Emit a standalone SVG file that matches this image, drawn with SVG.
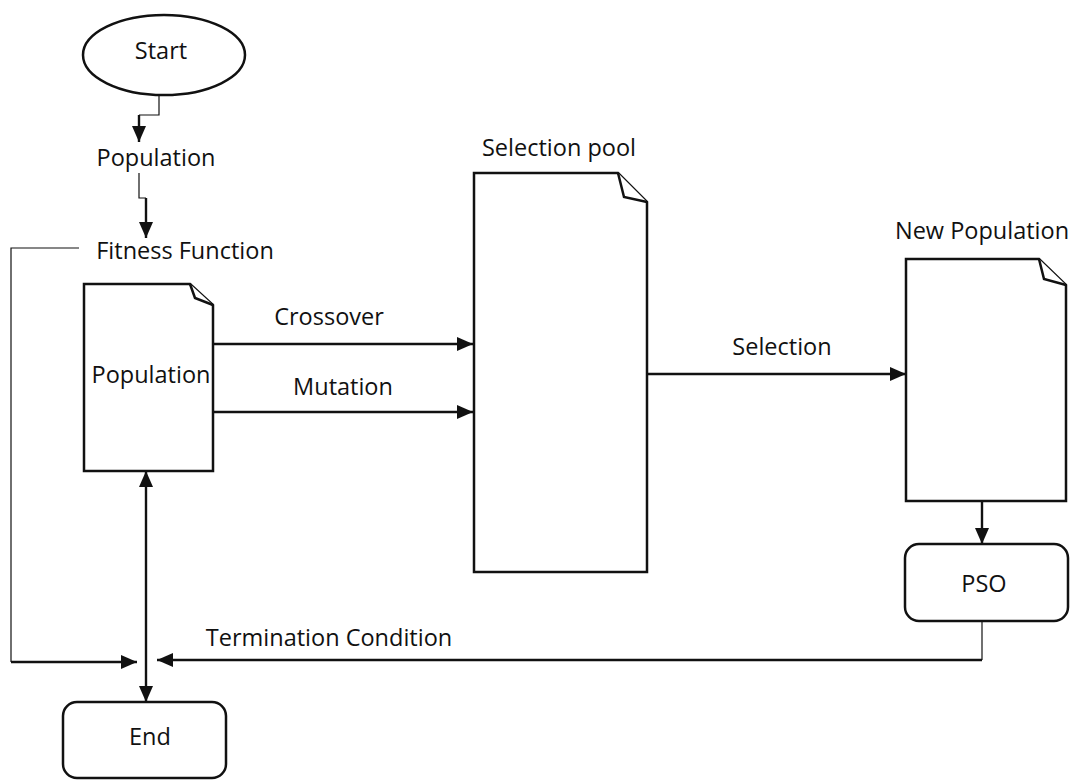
<svg xmlns="http://www.w3.org/2000/svg" width="1073" height="780" viewBox="0 0 1073 780">
<style>
.t{font-family:"Open Sans","Liberation Sans",sans-serif;font-size:23.5px;fill:#111;}
.s{fill:#fff;stroke:#111;stroke-width:2.5;stroke-linejoin:miter;}
.c{fill:none;stroke:#111;stroke-width:2.4;}
.thin{fill:none;stroke:#111;stroke-width:1.2;}
</style>
<defs>
<marker id="ah" viewBox="0 0 16 14" refX="16" refY="7" markerWidth="16" markerHeight="14" markerUnits="userSpaceOnUse" orient="auto-start-reverse">
<path d="M0,0 L16,7 L0,14 Z" fill="#111"/>
</marker>
</defs>
<rect width="1073" height="780" fill="#fff"/>
<g id="connectors">
<path class="thin" d="M159,96 V115 H139"/>
<path class="c" d="M139,115 V142" marker-end="url(#ah)"/>
<path class="thin" d="M139,173 V198 H146"/>
<path class="c" d="M146,198 V238" marker-end="url(#ah)"/>
<path class="thin" d="M79,248 H11 V662"/>
<path class="c" d="M11,662 H137" marker-end="url(#ah)"/>
<path class="c" d="M213,344 H473" marker-end="url(#ah)"/>
<path class="c" d="M213,412 H473" marker-end="url(#ah)"/>
<path class="c" d="M647,374 H906" marker-end="url(#ah)"/>
<path class="c" d="M982,501 V544" marker-end="url(#ah)"/>
<path class="thin" d="M982,621 V660"/>
<path class="c" d="M982,660 H157" marker-end="url(#ah)"/>
<path class="c" d="M146,471 V702" marker-start="url(#ah)" marker-end="url(#ah)"/>
<text class="t" x="329" y="325" text-anchor="middle">Crossover</text>
<text class="t" x="343" y="395" text-anchor="middle">Mutation</text>
<text class="t" x="782" y="355" text-anchor="middle">Selection</text>
<text class="t" x="329" y="646" text-anchor="middle">Termination Condition</text>
</g>
<g id="start">
<ellipse class="s" cx="164" cy="55" rx="81" ry="40"/>
<text class="t" x="161" y="59" text-anchor="middle">Start</text>
</g>
<g id="population-label">
<text class="t" x="156" y="166" text-anchor="middle">Population</text>
</g>
<g id="fitness">
<text class="t" x="185" y="259" text-anchor="middle">Fitness Function</text>
</g>
<g id="population-doc">
<path class="s" d="M84,284 H190 L213,305 V471 H84 Z"/>
<path class="s" d="M190,284 L195,298 L213,305" fill="none"/>
<text class="t" x="151" y="383" text-anchor="middle">Population</text>
</g>
<g id="selection-pool">
<path class="s" d="M474,173 H618 L647,202 V572 H474 Z"/>
<path class="s" d="M618,173 L624,197 L647,202" fill="none"/>
<text class="t" x="559" y="156" text-anchor="middle">Selection pool</text>
</g>
<g id="new-population">
<path class="s" d="M906,259 H1039 L1066,285 V501 H906 Z"/>
<path class="s" d="M1039,259 L1044,279 L1066,285" fill="none"/>
<text class="t" x="982" y="239" text-anchor="middle">New Population</text>
</g>
<g id="pso">
<rect class="s" x="905" y="544" width="163" height="77" rx="14"/>
<text class="t" x="984" y="592" text-anchor="middle">PSO</text>
</g>
<g id="end">
<rect class="s" x="63" y="702" width="163" height="76" rx="14"/>
<text class="t" x="150" y="745" text-anchor="middle">End</text>
</g>
</svg>
